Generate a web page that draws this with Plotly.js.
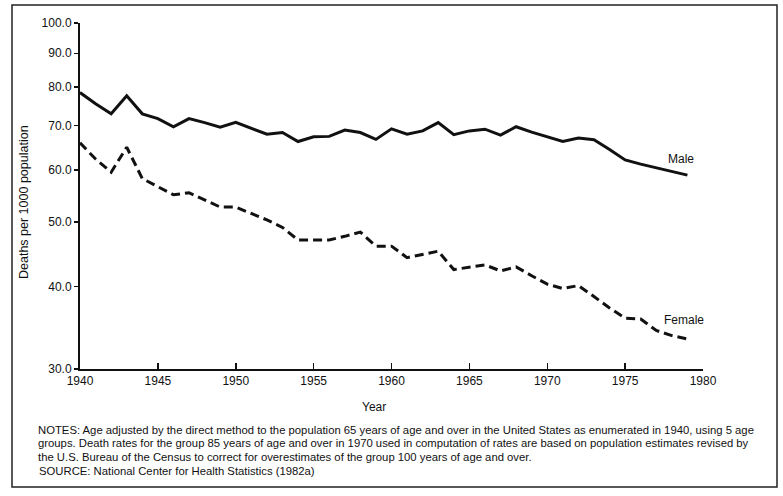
<!DOCTYPE html>
<html>
<head>
<meta charset="utf-8">
<script src="https://cdn.plot.ly/plotly-3.0.1.min.js"></script>
<style>html,body{margin:0;padding:0;background:#fff;}#chart{width:783px;height:496px;}</style>
</head>
<body>
<div id="chart"></div>
<script>
const years = [1940,1941,1942,1943,1944,1945,1946,1947,1948,1949,
               1950,1951,1952,1953,1954,1955,1956,1957,1958,1959,
               1960,1961,1962,1963,1964,1965,1966,1967,1968,1969,
               1970,1971,1972,1973,1974,1975,1976,1977,1978,1979];
const male = [78.5,75.5,72.9,77.6,72.9,71.7,69.7,71.7,70.7,69.6,
              70.8,69.3,67.9,68.3,66.2,67.3,67.4,68.9,68.3,66.7,
              69.2,67.9,68.7,70.7,67.8,68.7,69.1,67.7,69.7,68.4,
              67.2,66.2,67.0,66.6,64.4,62.1,61.2,60.4,59.6,58.9];
const female = [65.9,62.3,59.5,64.9,58.2,56.6,55.0,55.4,54.0,52.7,
                52.7,51.5,50.4,49.1,47.0,47.0,47.0,47.6,48.3,46.0,
                46.0,44.2,44.7,45.2,42.4,42.8,43.1,42.2,42.8,41.5,
                40.3,39.7,40.1,38.6,37.1,35.8,35.7,34.3,33.7,33.3];
const yTickVals = [30,40,50,60,70,80,90,100];
const yTickText = ["30.0","40.0","50.0","60.0","70.0","80.0","90.0","100.0"];
const xTickVals = [1940,1945,1950,1955,1960,1965,1970,1975,1980];
const seriesNames = ["Male","Female"];
const notes = [
  "NOTES: Age adjusted by the direct method to the population 65 years of age and over in the United States as enumerated in 1940, using 5 age",
  "groups. Death rates for the group 85 years of age and over in 1970 used in computation of rates are based on population estimates revised by",
  "the U.S. Bureau of the Census to correct for overestimates of the group 100 years of age and over."
];
const source = "SOURCE: National Center for Health Statistics (1982a)";

const FONT = "Liberation Sans, Arial, Helvetica, sans-serif";
const INK = "#111";

// pixel helpers for paper coordinates (plot area: x 80..703, y 23..369)
const px = p => (p - 80) / 623;
const py = p => (369 - p) / 346;

const traces = [
  {x: years, y: male, name: seriesNames[0], type: "scatter", mode: "lines",
   line: {color: INK, width: 3}},
  {x: years, y: female, name: seriesNames[1], type: "scatter", mode: "lines",
   line: {color: INK, width: 3, dash: "9px,5px"}}
];

const annotations = [
  {xref: "paper", yref: "paper", x: px(24), y: py(202), text: "Deaths per 1000 population",
   textangle: -90, showarrow: false, xanchor: "center", yanchor: "middle",
   font: {family: FONT, size: 12.5, color: INK}},
  {xref: "paper", yref: "paper", x: px(374), y: py(407), text: "Year",
   showarrow: false, xanchor: "center", yanchor: "middle",
   font: {family: FONT, size: 12, color: INK}},
  {xref: "x", yref: "y", x: 1978.6, y: Math.log10(62.3), text: "Male",
   showarrow: false, xanchor: "center", yanchor: "middle",
   font: {family: FONT, size: 12, color: INK}},
  {xref: "x", yref: "y", x: 1978.8, y: Math.log10(35.6), text: "Female",
   showarrow: false, xanchor: "center", yanchor: "middle",
   font: {family: FONT, size: 12, color: INK}}
];
const noteY = [430, 443.5, 457];
notes.forEach((t, i) => annotations.push({
  xref: "paper", yref: "paper", x: px(36), y: py(noteY[i]), text: t,
  showarrow: false, xanchor: "left", yanchor: "middle",
  font: {family: FONT, size: 11.3, color: INK}
}));
annotations.push({
  xref: "paper", yref: "paper", x: px(37), y: py(471), text: source,
  showarrow: false, xanchor: "left", yanchor: "middle",
  font: {family: FONT, size: 11.3, color: INK}
});

const layout = {
  width: 783, height: 496, autosize: false,
  margin: {l: 80, r: 80, t: 23, b: 127, pad: 0},
  paper_bgcolor: "#fff", plot_bgcolor: "#fff",
  showlegend: false,
  font: {family: FONT, size: 11.5, color: INK},
  xaxis: {
    range: [1940, 1980], tickvals: xTickVals, ticktext: xTickVals.map(String),
    showgrid: false, zeroline: false, showline: true, linecolor: INK, linewidth: 2,
    ticks: "inside", ticklen: 6, tickwidth: 1.5, tickcolor: INK,
    tickfont: {family: FONT, size: 12, color: INK}, fixedrange: true
  },
  yaxis: {
    type: "log", range: [Math.log10(30), Math.log10(100)],
    tickvals: yTickVals, ticktext: yTickText,
    showgrid: false, zeroline: false, showline: true, linecolor: INK, linewidth: 2,
    ticks: "outside", ticklen: 4, tickwidth: 1.5, tickcolor: INK,
    tickfont: {family: FONT, size: 12, color: INK}, fixedrange: true
  },
  shapes: [
    {type: "rect", xref: "paper", yref: "paper",
     x0: px(12), x1: px(777), y0: py(487), y1: py(5),
     line: {color: "#222", width: 1.5}, fillcolor: "rgba(0,0,0,0)", layer: "below"}
  ],
  annotations: annotations
};

Plotly.newPlot("chart", traces, layout, {displayModeBar: false, staticPlot: true});
</script>
</body>
</html>
